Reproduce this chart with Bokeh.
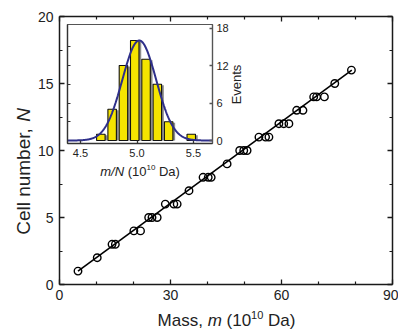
import numpy as np
from bokeh.plotting import figure
from bokeh.models import (Range1d, LinearAxis, FixedTicker, Label, CustomJSTickFormatter,
                          PrintfTickFormatter)
from bokeh.embed import file_html
from bokeh.resources import INLINE

# ---------------- data ----------------
mass = [5.0, 10.2, 14.2, 15.1, 20.1, 21.9, 24.1, 25.0, 26.4, 28.6, 30.9, 31.8,
        35.0, 38.8, 40.2, 41.0, 45.3, 48.7, 49.8, 50.7, 53.9, 55.7, 56.6,
        59.3, 60.6, 62.0, 64.1, 65.8, 68.7, 69.5, 71.6, 74.4, 78.9]
cell_n = [1, 2, 3, 3, 4, 4, 5, 5, 5, 6, 6, 6,
          7, 8, 8, 8, 9, 10, 10, 10, 11, 11, 11,
          12, 12, 12, 13, 13, 14, 14, 14, 15, 16]
fit_mass = [5.0, 79.0]
fit_n = [1.0, 16.0]

x_ticks = [0, 30, 60, 90]
x_minor = [10, 20, 40, 50, 70, 80]
y_ticks = [0, 5, 10, 15, 20]
y_minor = [2.5, 7.5, 12.5, 17.5]

hist_centers = [4.68, 4.78, 4.88, 4.98, 5.08, 5.18, 5.28, 5.48]
hist_counts = [1, 5, 12, 16, 13, 9, 3, 1]
gauss_mu, gauss_sigma, gauss_amp = 5.02, 0.15, 16.0

inset_x_ticks = [4.5, 5.0, 5.5]
inset_y_ticks = [0, 6, 12, 18]
inset_y_minor = [3, 6, 9, 12, 15]

# ---------------- layout constants (canvas px) ----------------
W, H = 398, 329
MAIN_BOX = (59, 392, 16, 284)        # l, r, t, b of the main frame
MAIN_XLIM, MAIN_YLIM = (0, 90), (0, 20)
INSET_BOX = (67, 212, 24, 143)
INSET_XLIM = (4.385, 5.668)
INSET_YLIM = (-0.48, 18.56)
FONT = "Liberation Sans"
DARK = "#1a1a1a"
TXT = "#222222"


def full_range(box, xlim, ylim):
    l, r, t, b = box
    kx = (xlim[1] - xlim[0]) / (r - l)
    ky = (ylim[1] - ylim[0]) / (b - t)
    x0 = xlim[0] - l * kx
    y0 = ylim[0] - (H - b) * ky
    return (x0, x0 + W * kx), (y0, y0 + H * ky)


(mx0, mx1), (my0, my1) = full_range(MAIN_BOX, MAIN_XLIM, MAIN_YLIM)
(ix0, ix1), (iy0, iy1) = full_range(INSET_BOX, INSET_XLIM, INSET_YLIM)


def mx(px):
    return mx0 + px / W * (mx1 - mx0)


def my(py):
    return my1 - py / H * (my1 - my0)


p = figure(width=W, height=H, x_range=Range1d(mx0, mx1), y_range=Range1d(my0, my1),
           output_backend="svg", toolbar_location=None,
           x_axis_location=None, y_axis_location=None,
           min_border=0, min_border_left=0, min_border_right=0,
           min_border_top=0, min_border_bottom=0)
p.grid.visible = False
p.outline_line_color = None
p.background_fill_color = "white"
p.border_fill_color = "white"
p.extra_x_ranges = {"ix": Range1d(ix0, ix1)}
p.extra_y_ranges = {"iy": Range1d(iy0, iy1)}


def make_axis(ticks, minor, loc, bounds, labels=True, size="14px", color=DARK,
              width=1.5, tin=5, tmin=3, standoff=5, fmt=None, **kw):
    ax = LinearAxis(fixed_location=loc, bounds=bounds,
                    ticker=FixedTicker(ticks=ticks, minor_ticks=minor), **kw)
    ax.major_tick_in = tin
    ax.major_tick_out = 0
    ax.minor_tick_in = tmin
    ax.minor_tick_out = 0
    ax.axis_line_color = color
    ax.axis_line_width = width
    ax.major_tick_line_color = color
    ax.minor_tick_line_color = color
    ax.major_tick_line_width = 1.3
    ax.minor_tick_line_width = 1.2
    ax.major_label_text_font = FONT
    ax.major_label_text_font_size = size
    ax.major_label_text_color = TXT
    ax.major_label_standoff = standoff
    if not labels:
        ax.formatter = CustomJSTickFormatter(code="return ''")
    elif fmt is not None:
        ax.formatter = fmt
    return ax


# main frame axes
p.add_layout(make_axis(x_ticks, x_minor, MAIN_YLIM[0], MAIN_XLIM, standoff=5), "below")
p.add_layout(make_axis(y_ticks, y_minor, MAIN_XLIM[0], MAIN_YLIM, standoff=6), "left")
p.add_layout(make_axis(x_ticks, x_minor, MAIN_YLIM[1], MAIN_XLIM, labels=False), "above")
p.add_layout(make_axis(y_ticks, y_minor, MAIN_XLIM[1], MAIN_YLIM, labels=False), "right")

# main data
p.line(fit_mass, fit_n, line_color="black", line_width=1.6)
p.scatter(mass, cell_n, marker="circle", size=7.5, fill_color=None,
          line_color="black", line_width=1.4)

# ---------------- inset ----------------
kw = dict(x_range_name="ix", y_range_name="iy")
p.quad(left=[INSET_XLIM[0]], right=[INSET_XLIM[1]], bottom=[INSET_YLIM[0]], top=[INSET_YLIM[1]],
       fill_color="white", line_color="#555", line_width=1.2, **kw)

hc = np.array(hist_centers)
hn = np.array(hist_counts, dtype=float)
bw = 0.075
p.quad(left=hc - bw / 2 + 0.02, right=hc + bw / 2 + 0.02, bottom=0, top=hn - 0.15,
       fill_color="#8c8c8c", line_color=None, **kw)
p.quad(left=hc - bw / 2, right=hc + bw / 2, bottom=0, top=hn,
       fill_color="#f5e400", line_color="#111", line_width=1.1, **kw)

gx = np.linspace(INSET_XLIM[0], INSET_XLIM[1], 300)
gy = gauss_amp * np.exp(-(gx - gauss_mu) ** 2 / (2 * gauss_sigma ** 2))
p.line(gx, gy, line_color="#2e2f8a", line_width=2, **kw)

# inset axes
p.add_layout(make_axis(inset_x_ticks, [], INSET_YLIM[0], INSET_XLIM, size="11px",
                       color="#333", width=1.3, tin=3, standoff=5,
                       fmt=PrintfTickFormatter(format="%.1f"), **kw), "below")
p.add_layout(make_axis(inset_y_ticks, [], INSET_XLIM[1], INSET_YLIM, size="11px",
                       color="#555", width=1.2, tin=3, standoff=4, **kw), "right")
p.add_layout(make_axis([], inset_y_minor, INSET_XLIM[0], INSET_YLIM, labels=False,
                       color="#333", width=1.3, tmin=3, **kw), "left")


def add_label(px, py, text, size, italic=False, angle=0.0, align="left"):
    lab = Label(x=mx(px), y=my(py), x_units="data", y_units="data", text=text,
                text_font=FONT, text_font_size=f"{size}px",
                text_font_style="italic" if italic else "normal",
                text_color=TXT, angle=angle, text_align=align,
                text_baseline="middle")
    p.add_layout(lab)


# inset axis labels
add_label(235.7, 84, "Events", 13, angle=np.pi / 2, align="center")
fs, sup = 13, 8
x0 = 139.5 - 79.6 / 2
yy = 171
add_label(x0, yy, "m/N", fs, italic=True)
x0 += 1.833 * fs + 0.278 * fs
add_label(x0, yy, "(10", fs)
x0 += 1.445 * fs
add_label(x0, yy - 4, "10", sup)
x0 += 1.112 * sup + 0.278 * fs
add_label(x0, yy, "Da)", fs)

# main axis labels
fs, sup = 17, 11
x0 = 226 - 137.8 / 2
yy = 320
add_label(x0, yy, "Mass,", fs)
x0 += 2.667 * fs + 0.278 * fs
add_label(x0, yy, "m", fs, italic=True)
x0 += 0.833 * fs + 0.278 * fs
add_label(x0, yy, "(10", fs)
x0 += 1.445 * fs
add_label(x0, yy - 6, "10", sup)
x0 += 1.112 * sup + 0.278 * fs
add_label(x0, yy, "Da)", fs)

fs = 19
ylen = (5.668 + 0.278 + 0.722) * fs
ycen = 171
y0 = ycen + ylen / 2
add_label(23, y0, "Cell number,", fs, angle=np.pi / 2)
add_label(23, y0 - (5.668 + 0.278) * fs, "N", fs, italic=True, angle=np.pi / 2)

open("out.html", "w").write(file_html(p, INLINE))
